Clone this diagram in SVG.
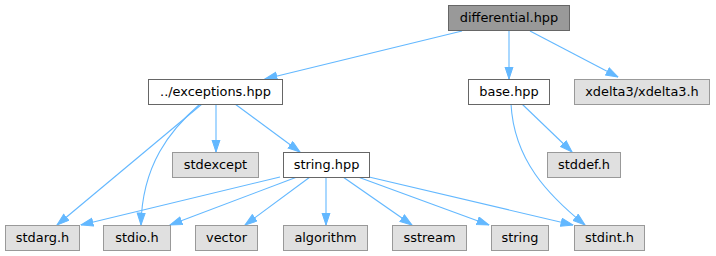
<svg xmlns="http://www.w3.org/2000/svg" width="716" height="256" viewBox="0 0 716 256">
<style>
.n rect{stroke-width:1}
.main rect{fill:#999999;stroke:#666666}
.loc rect{fill:#ffffff;stroke:#666666}
.ext rect{fill:#e0e0e0;stroke:#999999}
text{font-family:"DejaVu Sans",sans-serif;font-size:12.9px;fill:#000000;text-anchor:middle}
#edges path{fill:none;stroke:#63b8ff;stroke-width:1.1}
</style>
<defs>
<marker id="ah" markerUnits="userSpaceOnUse" markerWidth="13" markerHeight="10" refX="12.5" refY="4.5" orient="auto">
<path d="M0.5,0.5 L12.5,4.5 L0.5,8.5 z" fill="#63b8ff" stroke="#63b8ff" stroke-width="1"/>
</marker>
</defs>
<g id="edges">
<path d="M462,31 L265,79" marker-end="url(#ah)"/>
<path d="M509,31 L509,79" marker-end="url(#ah)"/>
<path d="M530,31 L618,77" marker-end="url(#ah)"/>
<path d="M202,104 L57,225" marker-end="url(#ah)"/>
<path d="M200,104 C170,130 142,165 141,225" marker-end="url(#ah)"/>
<path d="M216,104 L216,152" marker-end="url(#ah)"/>
<path d="M235,104 L300,152" marker-end="url(#ah)"/>
<path d="M280,177 L81,225" marker-end="url(#ah)"/>
<path d="M297,177 L170,225" marker-end="url(#ah)"/>
<path d="M310,177 L245,225" marker-end="url(#ah)"/>
<path d="M326,177 L326,225" marker-end="url(#ah)"/>
<path d="M343,177 L412,225" marker-end="url(#ah)"/>
<path d="M358,177 L489,225" marker-end="url(#ah)"/>
<path d="M369,177 L573,225" marker-end="url(#ah)"/>
<path d="M522,104 L572,152" marker-end="url(#ah)"/>
<path d="M511,104 C514,160 548,195 585,225" marker-end="url(#ah)"/>
</g>
<g id="n_differential" class="n main"><rect x="448.5" y="5.5" width="121" height="25"/><text x="509" y="22">differential.hpp</text></g>
<g id="n_exceptions" class="n loc"><rect x="148.5" y="79.5" width="134" height="25"/><text x="215.5" y="96">../exceptions.hpp</text></g>
<g id="n_base" class="n loc"><rect x="468.5" y="79.5" width="81" height="25"/><text x="509" y="96">base.hpp</text></g>
<g id="n_xdelta3" class="n ext"><rect x="574.5" y="79.5" width="135" height="25"/><text x="642" y="96">xdelta3/xdelta3.h</text></g>
<g id="n_stdexcept" class="n ext"><rect x="172.5" y="152.5" width="86" height="25"/><text x="215.5" y="169">stdexcept</text></g>
<g id="n_stringhpp" class="n loc"><rect x="283.5" y="152.5" width="86" height="25"/><text x="326.5" y="169">string.hpp</text></g>
<g id="n_stddef" class="n ext"><rect x="547.5" y="152.5" width="73" height="25"/><text x="584" y="169">stddef.h</text></g>
<g id="n_stdarg" class="n ext"><rect x="5.5" y="225.5" width="74" height="25"/><text x="42.5" y="242">stdarg.h</text></g>
<g id="n_stdio" class="n ext"><rect x="103.5" y="225.5" width="67" height="25"/><text x="137" y="242">stdio.h</text></g>
<g id="n_vector" class="n ext"><rect x="195.5" y="225.5" width="62" height="25"/><text x="226.5" y="242">vector</text></g>
<g id="n_algorithm" class="n ext"><rect x="283.5" y="225.5" width="84" height="25"/><text x="325.5" y="242">algorithm</text></g>
<g id="n_sstream" class="n ext"><rect x="392.5" y="225.5" width="74" height="25"/><text x="429.5" y="242">sstream</text></g>
<g id="n_string" class="n ext"><rect x="491.5" y="225.5" width="57" height="25"/><text x="520" y="242">string</text></g>
<g id="n_stdint" class="n ext"><rect x="574.5" y="225.5" width="70" height="25"/><text x="609.5" y="242">stdint.h</text></g>
</svg>
